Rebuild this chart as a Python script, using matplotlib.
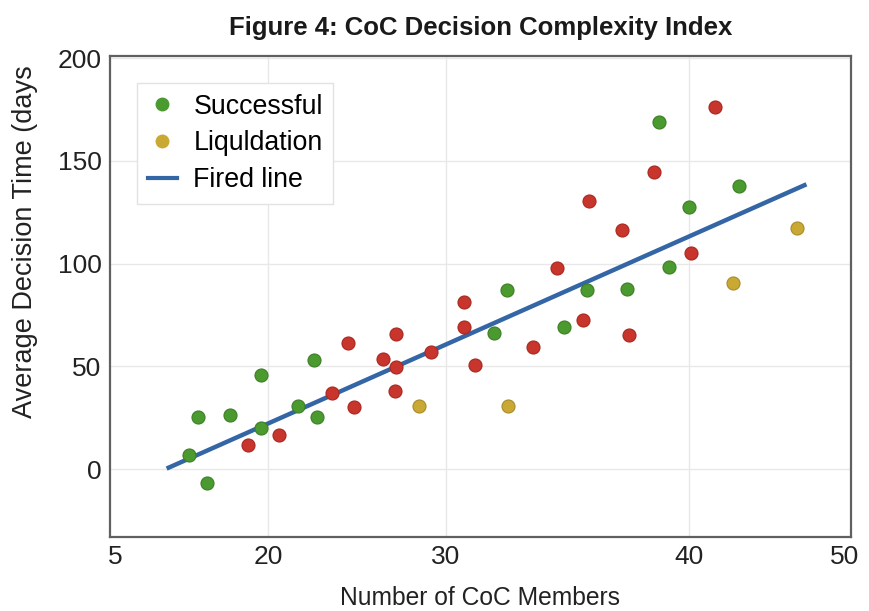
import matplotlib

matplotlib.use("Agg")
import matplotlib.pyplot as plt
from matplotlib.lines import Line2D

# values (x in axis units, y in days)
success_x = [9.77, 10.88, 10.32, 12.26, 14.2, 14.16, 16.44, 17.39, 17.57,
             28.3, 29.11, 32.55, 34.0, 36.39, 38.37, 38.98, 40.19, 43.22]
success_y = [6.7, -6.5, 25.3, 26.3, 45.9, 20.1, 30.7, 53.1, 25.3,
             66.1, 87.2, 69.0, 87.3, 87.8, 169.1, 98.5, 127.6, 138.0]

failed_x = [13.39, 15.29, 18.5, 19.45, 19.8, 21.57, 22.4, 22.4, 22.33, 24.53,
            26.49, 26.49, 27.15, 30.69, 32.14, 33.72, 34.07, 36.08, 36.55,
            38.07, 40.29, 41.73]
failed_y = [11.8, 16.7, 37.2, 61.5, 30.3, 53.6, 65.7, 49.8, 38.1, 57.1,
            81.5, 69.3, 50.6, 59.3, 97.7, 72.4, 130.5, 116.4, 65.1,
            144.8, 105.3, 176.4]

liquidation_x = [23.77, 29.16, 42.86, 46.74]
liquidation_y = [30.8, 30.7, 90.4, 117.5]

fit_x = [8.44, 47.31]
fit_y = [0.3, 138.6]

tick_pos = [5.3, 14.6, 25.4, 40.2, 49.6]
tick_labels = ["5", "20", "30", "40", "50"]

green = "#4b9a30"
red = "#c8352c"
gold = "#c9a934"
blue = "#3466a6"

plt.rcParams["font.family"] = ["Liberation Sans", "DejaVu Sans"]

fig = plt.figure(figsize=(8.69, 6.11), dpi=100)
ax = fig.add_axes([0.1266, 0.1211, 0.8524, 0.7872])

ax.plot(fit_x, fit_y, color=blue, linewidth=3.2, zorder=2, solid_capstyle="butt")
marker_kw = dict(s=88, linewidths=0.8, zorder=3)
ax.scatter(failed_x, failed_y, color=red, edgecolors="#a8281f", **marker_kw)
ax.scatter(success_x, success_y, color=green, edgecolors="#3c7f25", **marker_kw)
ax.scatter(liquidation_x, liquidation_y, color=gold, edgecolors="#a88c28", **marker_kw)

ax.set_xlim(5, 50)
ax.set_ylim(-33, 201)
ax.set_xticks(tick_pos)
ax.set_xticklabels(tick_labels)
ax.set_yticks([0, 50, 100, 150, 200])
ax.tick_params(length=0, labelsize=19, pad=6, colors="#222222")
ax.grid(True, color="#e8e8e8", linewidth=1)
ax.set_axisbelow(True)
# edge ticks sit on the spines, so their gridlines are not wanted
xgrid = ax.get_xgridlines()
xgrid[0].set_visible(False)
xgrid[-1].set_visible(False)
for spine in ax.spines.values():
    spine.set_color("#606060")
    spine.set_linewidth(1.6)

ax.set_title("Figure 4: CoC Decision Complexity Index", fontsize=18.5,
             fontweight="bold", pad=15, color="#1a1a1a")
ax.set_xlabel("Number of CoC Members", fontsize=17.7, labelpad=12, color="#222222")
ax.set_ylabel("Average Decision Time (days", fontsize=19.5, color="#222222")
ax.yaxis.set_label_coords(-0.097, 0.615)

handles = [
    Line2D([], [], marker="o", linestyle="none", color=green, markersize=9),
    Line2D([], [], marker="o", linestyle="none", color=gold, markersize=9),
    Line2D([], [], color=blue, linewidth=3),
]
ax.legend(handles, ["Successful", "Liquldation", "Fired line"], loc="upper left",
          bbox_to_anchor=(0.0364, 0.944), borderaxespad=0, fontsize=19.3,
          frameon=True, fancybox=False, edgecolor="#e2e2e2", framealpha=1,
          handlelength=1.1, handletextpad=0.6, labelspacing=0.4, borderpad=0.4)

fig.savefig("out.png", dpi=100)
